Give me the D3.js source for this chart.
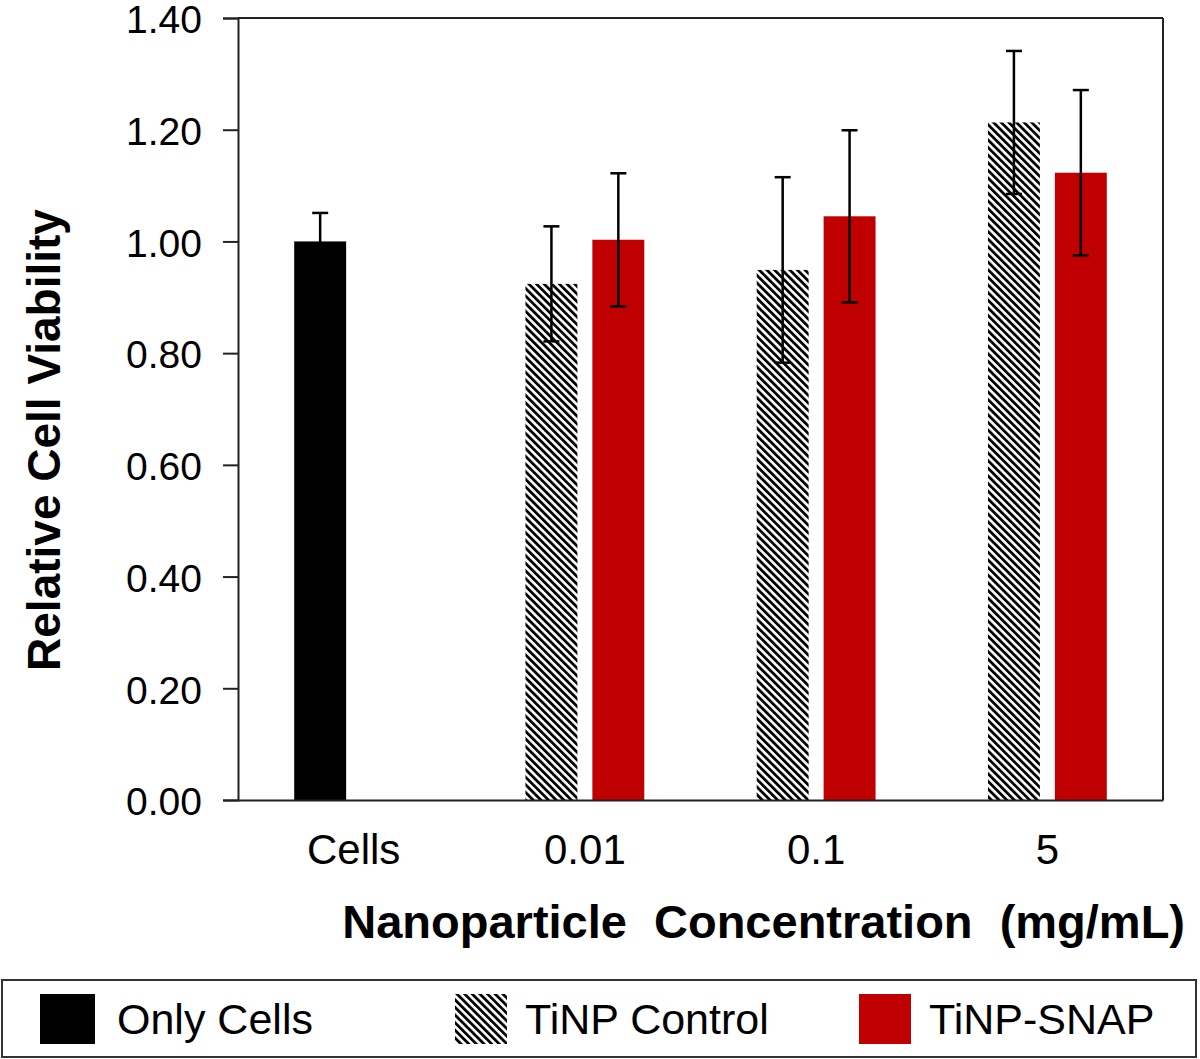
<!DOCTYPE html>
<html>
<head>
<meta charset="utf-8">
<script src="https://cdn.jsdelivr.net/npm/d3@7"></script>
<style>
    body { margin: 0; background: #fff; }
    text { font-family: "Liberation Sans", Arial, sans-serif; fill: #000; }
</style>
</head>
<body>
<div id="chart"></div>
<script>
// Data
const categories = ["Cells", "0.01", "0.1", "5"];
const seriesNames = ["Only Cells", "TiNP Control", "TiNP-SNAP"];
const onlyCells = [1.000, null, null, null];
const onlyCellsErr = [0.051, null, null, null];
const tinpControl = [null, 0.924, 0.949, 1.213];
const tinpControlErr = [null, 0.103, 0.166, 0.128];
const tinpSnap = [null, 1.003, 1.045, 1.123];
const tinpSnapErr = [null, 0.119, 0.154, 0.148];
const yTicks = [0, 0.2, 0.4, 0.6, 0.8, 1.0, 1.2, 1.4];

const W = 1200, H = 1059;
const margin = { top: 18, right: 37, bottom: 259, left: 238 };
const width = W - margin.left - margin.right;
const height = H - margin.top - margin.bottom;

const svg = d3.select("#chart").append("svg")
    .attr("width", W)
    .attr("height", H);

// hatch pattern for TiNP Control
const defs = svg.append("defs");
defs.append("pattern")
    .attr("id", "hatch")
    .attr("patternUnits", "userSpaceOnUse")
    .attr("width", 5.4)
    .attr("height", 5.4)
    .attr("patternTransform", "rotate(-45)")
    .call(p => {
        p.append("rect").attr("width", 5.4).attr("height", 5.4).attr("fill", "#fff");
        p.append("rect").attr("width", 2.8).attr("height", 5.4).attr("fill", "#000");
    });

const fills = ["#000", "url(#hatch)", "#c00000"];
const slots = [0, 0, 1];

const g = svg.append("g")
    .attr("transform", "translate(" + margin.left + "," + margin.top + ")");

const x0 = d3.scaleBand().domain(categories).range([0, width]).padding(0);
const x1 = d3.scaleBand().domain([0, 1]).range([0, x0.bandwidth()])
    .paddingInner(0.224).paddingOuter(0.84);
const y = d3.scaleLinear().domain([0, 1.4]).range([height, 0]);

// bars
const series = [
    { name: seriesNames[0], values: onlyCells, errs: onlyCellsErr },
    { name: seriesNames[1], values: tinpControl, errs: tinpControlErr },
    { name: seriesNames[2], values: tinpSnap, errs: tinpSnapErr }
];

const points = [];
series.forEach((s, si) => {
    s.values.forEach((v, ci) => {
        if (v !== null) points.push({ si: si, cat: categories[ci], v: v, e: s.errs[ci] });
    });
});

g.selectAll("rect.bar")
    .data(points)
    .enter().append("rect")
    .attr("class", "bar")
    .attr("x", d => x0(d.cat) + x1(slots[d.si]))
    .attr("y", d => y(d.v))
    .attr("width", x1.bandwidth())
    .attr("height", d => y(0) - y(d.v))
    .attr("fill", d => fills[d.si]);

// error bars
const cap = 8;
const eb = g.selectAll("g.err")
    .data(points)
    .enter().append("g")
    .attr("class", "err")
    .attr("transform", d => "translate(" + (x0(d.cat) + x1(slots[d.si]) + x1.bandwidth() / 2) + ",0)")
    .style("stroke", "#000")
    .style("stroke-width", 2.5);

eb.append("line")
    .attr("y1", d => y(d.v - d.e))
    .attr("y2", d => y(d.v + d.e));
eb.append("line")
    .attr("x1", -cap).attr("x2", cap)
    .attr("y1", d => y(d.v + d.e)).attr("y2", d => y(d.v + d.e));
eb.append("line")
    .attr("x1", -cap).attr("x2", cap)
    .attr("y1", d => y(d.v - d.e)).attr("y2", d => y(d.v - d.e));

// frame: top and right
g.append("line").attr("x1", 0).attr("x2", width).attr("y1", 0).attr("y2", 0)
    .style("stroke", "#222").style("stroke-width", 2);
g.append("line").attr("x1", width).attr("x2", width).attr("y1", 0).attr("y2", height)
    .style("stroke", "#222").style("stroke-width", 2);

// y axis
const yAxis = g.append("g")
    .call(d3.axisLeft(y).tickValues(yTicks).tickFormat(d3.format(".2f"))
        .tickSize(15).tickPadding(21));
yAxis.selectAll("path, line").style("stroke", "#222").style("stroke-width", 2);
yAxis.selectAll("text").style("font-size", "39px")
    .attr("dy", "0.38em")
    .style("font-family", "'Liberation Sans', Arial, sans-serif");

// x axis
const xAxis = g.append("g")
    .attr("transform", "translate(0," + height + ")")
    .call(d3.axisBottom(x0).tickSize(0).tickPadding(34));
xAxis.select("path").style("stroke", "#222").style("stroke-width", 2);
xAxis.selectAll("text").style("font-size", "42px")
    .style("font-family", "'Liberation Sans', Arial, sans-serif");

// axis titles
svg.append("text")
    .attr("transform", "translate(60,440) rotate(-90)")
    .attr("text-anchor", "middle")
    .style("font-size", "46px")
    .style("font-weight", "bold")
    .text("Relative Cell Viability");

svg.append("text")
    .attr("x", 1185)
    .attr("y", 938)
    .attr("text-anchor", "end")
    .style("font-size", "47px")
    .style("font-weight", "bold")
    .style("word-spacing", "14px")
    .text("Nanoparticle Concentration (mg/mL)");

// legend
const legend = svg.append("g");
legend.append("rect")
    .attr("x", 2).attr("y", 980)
    .attr("width", 1194).attr("height", 77)
    .attr("fill", "#fff")
    .style("stroke", "#333").style("stroke-width", 2);

const legendX = [40, 455, 859];
const li = legend.selectAll("g.item")
    .data(seriesNames)
    .enter().append("g")
    .attr("class", "item")
    .attr("transform", (d, i) => "translate(" + legendX[i] + ",994)");
li.append("rect")
    .attr("width", (d, i) => i === 0 ? 55 : 52)
    .attr("height", 50)
    .attr("fill", (d, i) => fills[i]);
li.append("text")
    .attr("x", (d, i) => i === 0 ? 77 : 70)
    .attr("y", 40)
    .style("font-size", "43px")
    .text(d => d);
</script>
</body>
</html>
